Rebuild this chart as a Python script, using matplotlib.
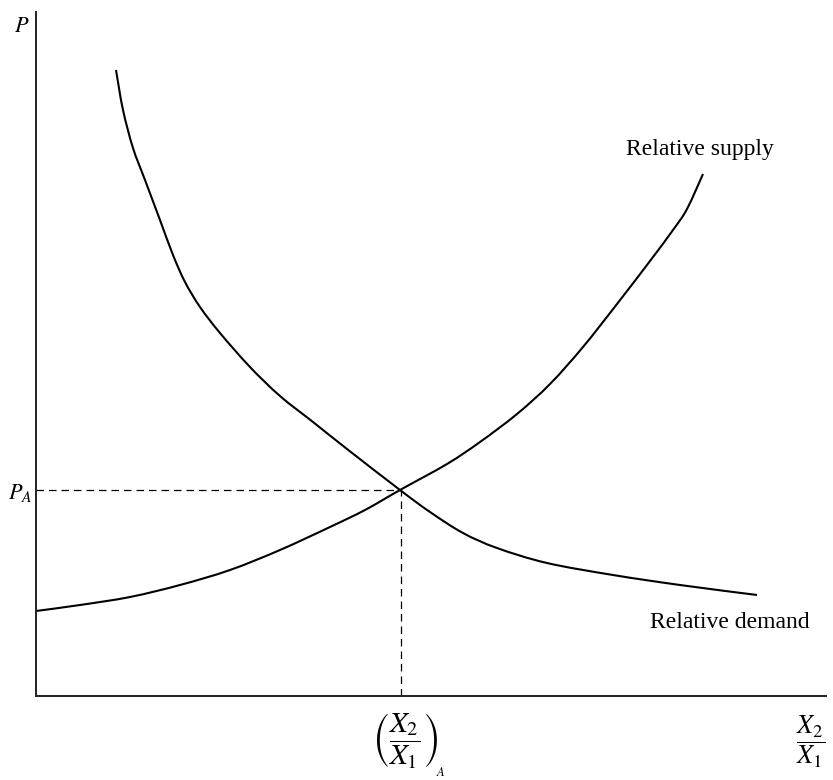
import matplotlib
matplotlib.use("Agg")
import matplotlib.pyplot as plt
from matplotlib.path import Path
from matplotlib.patches import PathPatch

# Courbes (unités arbitraires, origine au coin des axes)
demand_x = [80, 87, 97, 109, 124, 137, 149, 164, 184, 214, 244, 277, 311,
            364, 394, 427, 461, 511, 577, 644, 721]
demand_y = [626, 586, 548, 516, 476, 441, 414, 389, 363, 329, 300, 274, 247,
            206, 184, 163, 148, 133, 121, 111, 101]

supply_x = [0, 44, 94, 144, 194, 244, 294, 329, 364, 411, 444, 481, 514, 547,
            581, 614, 637, 651, 667]
supply_y = [85, 91, 99, 111, 126, 146, 169, 186, 206, 232, 254, 282, 312, 349,
            392, 435, 466, 487, 522]

# Equilibre autarcique
eq_x, eq_y = 365, 206


def smooth_path(xs, ys):
    # courbe de Bezier passant par les points (Catmull-Rom)
    pts = list(zip(xs, ys))
    verts = [pts[0]]
    codes = [Path.MOVETO]
    n = len(pts)
    for i in range(n - 1):
        p0 = pts[max(i - 1, 0)]
        p1 = pts[i]
        p2 = pts[i + 1]
        p3 = pts[min(i + 2, n - 1)]
        c1 = (p1[0] + (p2[0] - p0[0]) / 6, p1[1] + (p2[1] - p0[1]) / 6)
        c2 = (p2[0] - (p3[0] - p1[0]) / 6, p2[1] - (p3[1] - p1[1]) / 6)
        verts += [c1, c2, p2]
        codes += [Path.CURVE4] * 3
    return Path(verts, codes)


plt.rcParams['font.family'] = ['Liberation Serif', 'DejaVu Serif']
plt.rcParams['mathtext.fontset'] = 'stix'

W, H = 833, 780
fig = plt.figure(figsize=(W / 100, H / 100), dpi=100)
ax = fig.add_axes([36 / W, (H - 696) / H, (826 - 36) / W, (696 - 12) / H])
ax.set_xlim(0, 790)
ax.set_ylim(0, 684)

for side in ['top', 'right']:
    ax.spines[side].set_visible(False)
for side in ['left', 'bottom']:
    ax.spines[side].set_linewidth(1.4)
    ax.spines[side].set_color('#222222')
ax.set_xticks([])
ax.set_yticks([])

for xs, ys in [(demand_x, demand_y), (supply_x, supply_y)]:
    ax.add_patch(PathPatch(smooth_path(xs, ys), facecolor='none',
                           edgecolor='black', lw=1.5, capstyle='butt'))

# pointillés vers les axes
ax.plot([0, eq_x], [eq_y, eq_y], color='black', lw=0.9, dashes=(6, 4))
ax.plot([eq_x, eq_x], [0, eq_y], color='black', lw=0.9, dashes=(6, 4))

ax.text(590, 546, 'Relative supply', fontsize=17, ha='left', va='center')
ax.text(614, 74, 'Relative demand', fontsize=17, ha='left', va='center')

ax.text(-14, 668, '$P$', fontsize=16, ha='center', va='center', clip_on=False)
ax.text(-4, eq_y - 3, '$P_A$', fontsize=16, ha='right', va='center', clip_on=False)

ax.text(eq_x + 4, -45, r'$\left(\dfrac{X_2}{X_1}\right)$', fontsize=21,
        ha='center', va='center', clip_on=False)
ax.text(eq_x + 40, -77, '$A$', fontsize=9, ha='center', va='center', clip_on=False)
ax.text(775, -46, r'$\dfrac{X_2}{X_1}$', fontsize=19,
        ha='center', va='center', clip_on=False)

fig.savefig('out.png', dpi=100)
